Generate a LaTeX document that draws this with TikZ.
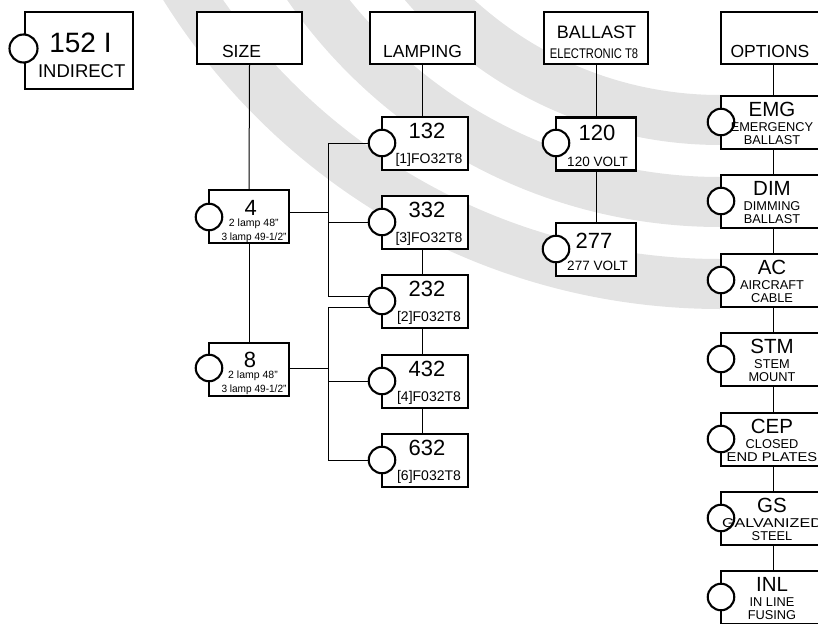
\documentclass[tikz,border=0pt]{standalone}
\usepackage{fontspec}
\setmainfont{Liberation Sans}
\definecolor{bandgray}{HTML}{E3E3E3}
\pgfdeclarelayer{bands}
\pgfdeclarelayer{wires}
\pgfsetlayers{bands,wires,main}
\newcommand\fsz[1]{\fontsize{#1}{#1}\selectfont}
\begin{document}
\begin{tikzpicture}[x=1pt,y=-1pt,
 boxx/.style={draw, rectangle, line width=2.2pt, fill=white, inner sep=0pt},
 hdr/.style={boxx, minimum width=105pt, minimum height=52pt},
 szb/.style={boxx, minimum width=80pt, minimum height=53pt},
 lbx/.style={boxx, minimum width=86pt, minimum height=53pt},
 bbx/.style={boxx, minimum width=80pt, minimum height=53pt},
 obx/.style={boxx, minimum width=105pt, minimum height=53pt},
 circ/.style={draw, circle, line width=2.1pt, fill=white, minimum size=26.5pt, inner sep=0pt},
 wire/.style={line width=1pt},
 bandline/.style={line width=50pt, draw=bandgray},
 tx/.style={anchor=base, inner sep=0pt, outer sep=0pt},
 tbig/.style={tx, font=\fsz{22}},
 tsub/.style={tx, font=\fsz{14}},
 tsmall/.style={tx, font=\fsz{10.5}},
 tom/.style={tx, font=\fsz{20.5}},
 tos/.style={tx, font=\fsz{12.8}},
 thd/.style={tx, font=\fsz{17.5}},
]
\useasboundingbox (0,0) rectangle (818,623);

% background bands
\begin{pgfonlayer}{bands}
\begin{scope}
\clip (0,0) rectangle (818,623);
\draw[bandline] (89,-347) arc[start angle=180, end angle=90, radius=631];
\draw[bandline] (219,-299) arc[start angle=180, end angle=90, radius=501];
\draw[bandline] (330,-270) arc[start angle=180, end angle=90, radius=390];
\end{scope}
\end{pgfonlayer}

% start box
\node[boxx, minimum width=108pt, minimum height=77pt] (b152) at (79,50.5) {};
\node[circ, minimum size=28pt] (c152) at (23.5,48.5) {};
\node[tx, font=\fsz{28}] (t152) at (80.5,52.7) {152 I};
\node[tx, font=\fsz{18.5}] (t152s) at (81.7,77.3) {INDIRECT};

% headers
\node[hdr] (hsize) at (249.5,38) {};
\node[thd] (tsize) at (241.5,57.3) {SIZE};
\node[hdr] (hlamp) at (422.5,38) {};
\node[thd] (tlamp) at (422.5,57.3) {LAMPING};
\node[hdr, minimum width=104pt] (hbal) at (596,38) {};
\node[tx, font=\fsz{18}] (tbal) at (596.5,38.3) {BALLAST};
\node[tx, font=\fsz{14}] (tbal2) at (594,58.3) {\scalebox{0.8}[1]{ELECTRONIC T8}};
\node[hdr] (hopt) at (773.5,38) {};
\node[thd] (topt) at (770,57.3) {OPTIONS};

% size
\node[szb] (b4) at (249,216.5) {};
\node[circ] (c4) at (209,217) {};
\node[tbig] (t4) at (250.8,215) {4};
\node[tsmall] (t4a) at (253.8,226.7) {2 lamp 48"};
\node[tsmall] (t4b) at (254,240.5) {\scalebox{0.96}[1]{3 lamp 49-1/2"}};
\node[szb] (b8) at (249,369.5) {};
\node[circ] (c8) at (209,368) {};
\node[tbig] (t8) at (250,367) {8};
\node[tsmall] (t8a) at (253,378.5) {2 lamp 48"};
\node[tsmall] (t8b) at (254,392.7) {\scalebox{0.96}[1]{3 lamp 49-1/2"}};

% lamping
\node[lbx] (l132) at (425,143.5) {};
\node[circ] (c132) at (382,143) {};
\node[tbig] (t132) at (427,138.5) {132};
\node[tsub] (s132) at (429,163.5) {[1]FO32T8};
\node[lbx] (l332) at (425,222.5) {};
\node[circ] (c332) at (382,222) {};
\node[tbig] (t332) at (427,217.5) {332};
\node[tsub] (s332) at (429,242.5) {[3]FO32T8};
\node[lbx] (l232) at (425,301.5) {};
\node[circ] (c232) at (382,301) {};
\node[tbig] (t232) at (427,296.5) {232};
\node[tsub] (s232) at (429,321.5) {[2]F032T8};
\node[lbx] (l432) at (425,381.5) {};
\node[circ] (c432) at (382,381) {};
\node[tbig] (t432) at (427,376.5) {432};
\node[tsub] (s432) at (429,401.5) {[4]F032T8};
\node[lbx] (l632) at (425,460.5) {};
\node[circ] (c632) at (382,460) {};
\node[tbig] (t632) at (427,455.5) {632};
\node[tsub] (s632) at (429,480.5) {[6]F032T8};

% ballast
\node[bbx] (b120) at (596,144) {};
\node[circ] (c120) at (556,143) {};
\node[tbig] (t120) at (597,140) {120};
\node[tx, font=\fsz{13.5}] (s120) at (597.5,166.7) {120 VOLT};
\node[bbx] (b277) at (596,249.5) {};
\node[circ] (c277) at (556,249) {};
\node[tbig] (t277) at (594,248.3) {277};
\node[tx, font=\fsz{13.5}] (s277) at (597.5,270.7) {277 VOLT};

% options
\node[obx] (oemg) at (773.5,122.5) {};
\node[circ] (cemg) at (721,122) {};
\node[tom] (temg) at (772,116.5) {EMG};
\node[tos] (temg1) at (772,131) {EMERGENCY};
\node[tos] (temg2) at (772,144) {BALLAST};

\node[obx] (odim) at (773.5,201.5) {};
\node[circ] (cdim) at (721,201) {};
\node[tom] (tdim) at (772,195.5) {DIM};
\node[tos] (tdim1) at (772,210) {DIMMING};
\node[tos] (tdim2) at (772,223) {BALLAST};

\node[obx] (oac) at (773.5,280.5) {};
\node[circ] (cac) at (721,280) {};
\node[tom] (tac) at (772,274.5) {AC};
\node[tos] (tac1) at (772,289) {AIRCRAFT};
\node[tos] (tac2) at (772,302) {CABLE};

\node[obx] (ostm) at (773.5,359.5) {};
\node[circ] (cstm) at (721,359) {};
\node[tom] (tstm) at (772,353.5) {STM};
\node[tos] (tstm1) at (772,368) {STEM};
\node[tos] (tstm2) at (772,381) {MOUNT};

\node[obx] (ocep) at (773.5,439.5) {};
\node[circ] (ccep) at (721,439) {};
\node[tom] (tcep) at (772,433.5) {CEP};
\node[tos] (tcep1) at (772,448) {CLOSED};
\node[tos] (tcep2) at (772,461) {\scalebox{1.15}[1]{END PLATES}};

\node[obx] (ogs) at (773.5,518.5) {};
\node[circ] (cgs) at (721,518) {};
\node[tom] (tgs) at (772,512.5) {GS};
\node[tos] (tgs1) at (772,527) {\scalebox{1.26}[1]{GALVANIZED}};
\node[tos] (tgs2) at (772,540) {STEEL};

\node[obx] (oinl) at (773.5,597.5) {};
\node[circ] (cinl) at (721,597) {};
\node[tom] (tinl) at (772,591.5) {INL};
\node[tos] (tinl1) at (772,606) {IN LINE};
\node[tos] (tinl2) at (772,619) {FUSING};

% connectors
\coordinate (j4) at (328,212);
\coordinate (j8) at (328,368);
\coordinate (k1) at ([yshift=5pt]c232.center);
\coordinate (k2) at ([yshift=-6pt]c232.center);
\begin{pgfonlayer}{wires}
\draw[wire] (hsize.south) -- (b4.north);
\draw[wire] (b4.south) -- (b8.north);
\draw[wire] (b4.east |- j4) -- (j4);
\draw[wire] (b8.east |- j8) -- (j8);
\draw[wire] (c132) -- (c132 -| j4) -- (k1 -| j4) -- (k1);
\draw[wire] (j4 |- c332) -- (c332);
\draw[wire] (k2) -- (k2 -| j8) -- (j8 |- c632) -- (c632);
\draw[wire] (j8 |- c432) -- (c432);
\draw[wire] (hlamp.south) -- (hlamp.south |- l132.north);
\draw[wire] ([xshift=-2.5pt]l332.south) -- ([xshift=-2.5pt]l232.north);
\draw[wire] ([xshift=-2.5pt]l232.south) -- ([xshift=-2.5pt]l432.north);
\draw[wire] ([xshift=-2.5pt]l432.south) -- ([xshift=-2.5pt]l632.north);
\draw[wire] (hbal.south) -- (b120.north);
\draw[wire] (b120.south) -- (b277.north);
\draw[wire] (hopt.south) -- (oemg.north);
\draw[wire] (oemg.south) -- (odim.north);
\draw[wire] (odim.south) -- (oac.north);
\draw[wire] (oac.south) -- (ostm.north);
\draw[wire] (ostm.south) -- (ocep.north);
\draw[wire] (ocep.south) -- (ogs.north);
\draw[wire] (ogs.south) -- (oinl.north);
\end{pgfonlayer}
\end{tikzpicture}
\end{document}
